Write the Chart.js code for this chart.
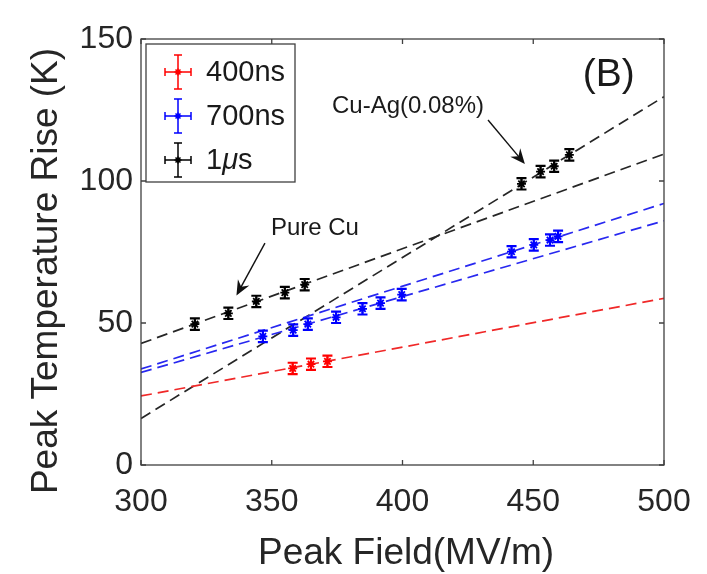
<!DOCTYPE html>
<html><head><meta charset="utf-8">
<script src="https://cdn.jsdelivr.net/npm/chart.js@4.4.1/dist/chart.umd.min.js"></script>
<style>html,body{margin:0;padding:0;background:#fff;overflow:hidden}</style>
</head><body>
<canvas id="c" width="707" height="574"></canvas>
<script>
// ---- data ----
const seriesLabels = ['400ns', '700ns', '1\u03BCs'];
const fieldRed   = [358.0, 365.0, 371.3];
const tempRed    = [34.0, 35.5, 36.5];
const errRed     = [2.0, 2.0, 2.0];
const fieldBlue  = [346.6, 358.2, 363.8, 374.6, 384.7, 391.6, 399.7, 441.7, 450.2, 456.4, 459.5];
const tempBlue   = [45.3, 47.5, 49.6, 52.0, 55.0, 57.0, 60.0, 75.1, 77.5, 79.2, 80.5];
const errBlue    = [2.0, 2.0, 2.0, 2.0, 2.0, 2.0, 2.0, 2.0, 2.0, 2.0, 2.0];
const fieldBlack = [320.6, 333.4, 344.1, 355.0, 362.6, 445.5, 452.8, 458.0, 463.8];
const tempBlack  = [49.6, 53.4, 57.6, 60.7, 63.5, 99.0, 103.3, 105.2, 109.2];
const errBlack   = [2.0, 2.0, 2.0, 2.0, 2.0, 2.0, 2.0, 2.0, 2.0];
const fieldErr   = 1.0;
const fitX         = [300, 500];
const fitRed       = [24.3, 58.7];
const fitBlueCuAg  = [33.8, 92.1];
const fitBluePure  = [32.6, 86.0];
const fitBlackPure = [42.8, 109.5];
const fitBlackCuAg = [16.4, 129.7];
const xTicks = [300, 350, 400, 450, 500];
const yTicks = [0, 50, 100, 150];

const RED = '#ff0000', BLUE = '#0000ff', BLACK = '#000000';
const LINE_RED = '#f02828', LINE_BLUE = '#2828f0', LINE_BLACK = '#262626';
const toPts = (xs, ys) => xs.map((x, i) => ({x: x, y: ys[i]}));

function fitDataset(ys, color) {
  return {type: 'line', data: toPts(fitX, ys), borderColor: color, borderWidth: 1.7,
    borderDash: [11, 6], pointRadius: 0, fill: false, tension: 0, order: 2};
}
function pointDataset(label, xs, ys, errs, color) {
  return {type: 'scatter', label: label, data: toPts(xs, ys), errs: errs,
    borderColor: color, backgroundColor: color, pointStyle: 'star', pointRadius: 4.5,
    pointBorderWidth: 1.8, order: 1};
}

const decor = {
  id: 'decor',
  afterDatasetsDraw(chart) {
    const ctx = chart.ctx, xs = chart.scales.x, ys = chart.scales.y;
    ctx.save();
    chart.data.datasets.forEach(ds => {
      if (!ds.errs) return;
      ctx.strokeStyle = ds.borderColor; ctx.lineWidth = 2.2;
      ds.data.forEach((p, i) => {
        const px = xs.getPixelForValue(p.x);
        const y1 = ys.getPixelForValue(p.y + ds.errs[i]);
        const y2 = ys.getPixelForValue(p.y - ds.errs[i]);
        const x1 = xs.getPixelForValue(p.x - fieldErr);
        const x2 = xs.getPixelForValue(p.x + fieldErr);
        const py = ys.getPixelForValue(p.y);
        ctx.beginPath();
        ctx.moveTo(px, y1); ctx.lineTo(px, y2);
        ctx.moveTo(px - 5, y1); ctx.lineTo(px + 5, y1);
        ctx.moveTo(px - 5, y2); ctx.lineTo(px + 5, y2);
        ctx.moveTo(x1, py); ctx.lineTo(x2, py);
        ctx.stroke();
      });
    });
    ctx.restore();
  },
  afterDraw(chart) {
    const ctx = chart.ctx, a = chart.chartArea, xs = chart.scales.x, ys = chart.scales.y;
    ctx.save();
    // plot box + inward ticks
    ctx.strokeStyle = '#404040'; ctx.lineWidth = 1.3;
    ctx.strokeRect(a.left, a.top, a.right - a.left, a.bottom - a.top);
    ctx.beginPath();
    xTicks.forEach(v => {
      const px = xs.getPixelForValue(v);
      ctx.moveTo(px, a.bottom); ctx.lineTo(px, a.bottom - 5);
      ctx.moveTo(px, a.top); ctx.lineTo(px, a.top + 5);
    });
    yTicks.forEach(v => {
      const py = ys.getPixelForValue(v);
      ctx.moveTo(a.left, py); ctx.lineTo(a.left + 5, py);
      ctx.moveTo(a.right, py); ctx.lineTo(a.right - 5, py);
    });
    ctx.stroke();

    // arrows and annotation text
    const arrow = (x0, y0, x1, y1) => {
      const sx = xs.getPixelForValue(x0), sy = ys.getPixelForValue(y0);
      const tx = xs.getPixelForValue(x1), ty = ys.getPixelForValue(y1);
      const ang = Math.atan2(ty - sy, tx - sx);
      ctx.strokeStyle = '#111'; ctx.fillStyle = '#111'; ctx.lineWidth = 1.4;
      ctx.beginPath(); ctx.moveTo(sx, sy);
      ctx.lineTo(tx - 8 * Math.cos(ang), ty - 8 * Math.sin(ang)); ctx.stroke();
      ctx.save(); ctx.translate(tx, ty); ctx.rotate(ang);
      ctx.beginPath(); ctx.moveTo(0, 0); ctx.lineTo(-15, -6.5); ctx.lineTo(-10, 0); ctx.lineTo(-15, 6.5);
      ctx.closePath(); ctx.fill(); ctx.restore();
    };
    arrow(347.4, 78.1, 336.5, 59.7);
    arrow(432.7, 121.5, 446.8, 106.0);
    ctx.fillStyle = '#1a1a1a'; ctx.textAlign = 'center'; ctx.textBaseline = 'middle';
    ctx.font = '24px "Liberation Sans", Arial, sans-serif';
    ctx.fillText('Pure Cu', xs.getPixelForValue(366.5), ys.getPixelForValue(83.3));
    ctx.fillText('Cu-Ag(0.08%)', xs.getPixelForValue(402.1), ys.getPixelForValue(126.2));
    ctx.font = '39px "Liberation Sans", Arial, sans-serif';
    ctx.fillText('(B)', xs.getPixelForValue(478.9), ys.getPixelForValue(137.3));

    // legend
    const lx = 146, ly = 44, lw = 149, lh = 138;
    ctx.fillStyle = '#fff'; ctx.fillRect(lx, ly, lw, lh);
    ctx.strokeStyle = '#404040'; ctx.lineWidth = 1.3; ctx.strokeRect(lx, ly, lw, lh);
    const colors = [RED, BLUE, BLACK];
    seriesLabels.forEach((lab, i) => {
      const cx = 178, cy = 72 + i * 44, c = colors[i];
      ctx.strokeStyle = c; ctx.fillStyle = c; ctx.lineWidth = 1.5;
      ctx.beginPath();
      ctx.moveTo(cx, cy - 17); ctx.lineTo(cx, cy + 17);
      ctx.moveTo(cx - 4, cy - 17); ctx.lineTo(cx + 4, cy - 17);
      ctx.moveTo(cx - 4, cy + 17); ctx.lineTo(cx + 4, cy + 17);
      ctx.moveTo(cx - 13, cy); ctx.lineTo(cx + 13, cy);
      ctx.moveTo(cx - 13, cy - 4); ctx.lineTo(cx - 13, cy + 4);
      ctx.moveTo(cx + 13, cy - 4); ctx.lineTo(cx + 13, cy + 4);
      ctx.stroke();
      Chart.helpers.drawPoint(ctx, {pointStyle: 'star', radius: 3.5, borderWidth: 1.2}, cx, cy);
      ctx.fillStyle = '#1a1a1a'; ctx.textAlign = 'left'; ctx.textBaseline = 'middle';
      let tx = 206;
      for (const ch of lab) {
        ctx.font = (ch === '\u03BC' ? 'italic ' : '') + '29px "Liberation Sans", Arial, sans-serif';
        ctx.fillText(ch, tx, cy + 1);
        tx += ctx.measureText(ch).width;
      }
    });

    // axis titles
    ctx.fillStyle = '#262626'; ctx.textAlign = 'center'; ctx.textBaseline = 'alphabetic';
    ctx.font = '37px "Liberation Sans", Arial, sans-serif';
    ctx.fillText('Peak Field(MV/m)', 406, 564);
    ctx.save(); ctx.translate(57, 271); ctx.rotate(-Math.PI / 2);
    ctx.fillText('Peak Temperature Rise (K)', 0, 0); ctx.restore();
    ctx.restore();
  }
};

const tickFont = {family: '"Liberation Sans", Arial, sans-serif', size: 32};
new Chart(document.getElementById('c'), {
  data: {datasets: [
    fitDataset(fitRed, LINE_RED), fitDataset(fitBlueCuAg, LINE_BLUE), fitDataset(fitBluePure, LINE_BLUE),
    fitDataset(fitBlackPure, LINE_BLACK), fitDataset(fitBlackCuAg, LINE_BLACK),
    pointDataset(seriesLabels[0], fieldRed, tempRed, errRed, RED),
    pointDataset(seriesLabels[1], fieldBlue, tempBlue, errBlue, BLUE),
    pointDataset(seriesLabels[2], fieldBlack, tempBlack, errBlack, BLACK)
  ]},
  options: {
    responsive: false, animation: false, devicePixelRatio: 1,
    layout: {padding: {left: 0, top: 39, right: 43, bottom: 0}},
    plugins: {legend: {display: false}, tooltip: {enabled: false}},
    scales: {
      x: {type: 'linear', min: 300, max: 500,
        afterBuildTicks: s => { s.ticks = xTicks.map(v => ({value: v})); },
        afterFit: s => { s.height = 109; s.paddingLeft = 0; s.paddingRight = 0; },
        grid: {display: false, drawTicks: false}, border: {display: false},
        ticks: {font: tickFont, color: '#262626', padding: 18, maxRotation: 0, autoSkip: false}},
      y: {type: 'linear', min: 0, max: 150,
        afterBuildTicks: s => { s.ticks = yTicks.map(v => ({value: v})); },
        afterFit: s => { s.width = 141; s.paddingTop = 0; s.paddingBottom = 0; },
        grid: {display: false, drawTicks: false}, border: {display: false},
        ticks: {font: tickFont, color: '#262626', padding: 8, autoSkip: false}}
    }
  },
  plugins: [decor]
});
</script>
</body></html>
